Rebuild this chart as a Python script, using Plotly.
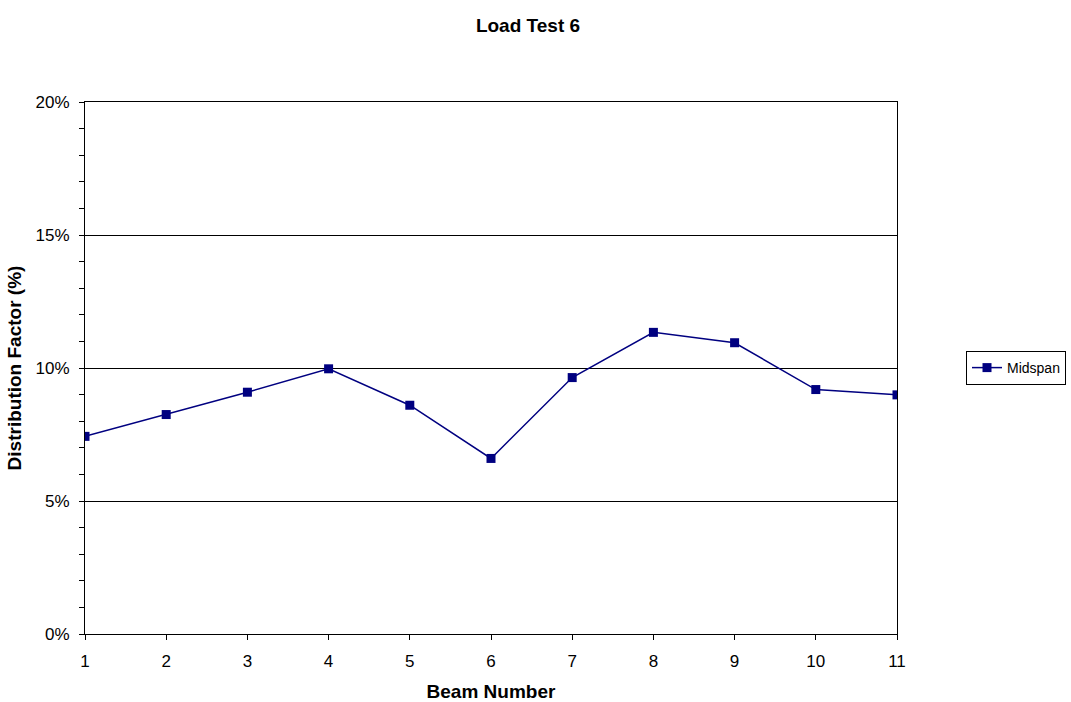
import plotly.graph_objects as go

# Beam numbers and midspan distribution factors (%)
beams = [1, 2, 3, 4, 5, 6, 7, 8, 9, 10, 11]
midspan = [7.43, 8.25, 9.09, 9.97, 8.60, 6.60, 9.64, 11.34, 10.95, 9.19, 8.99]
y_ticks = [0, 5, 10, 15, 20]
y_minor_ticks = [1, 2, 3, 4, 6, 7, 8, 9, 11, 12, 13, 14, 16, 17, 18, 19]

FONT = "Liberation Sans, Arial, sans-serif"
NAVY = "#000080"

fig = go.Figure()
fig.add_trace(go.Scatter(
    x=beams, y=midspan, name="Midspan", mode="lines+markers",
    line=dict(color=NAVY, width=1.5),
    marker=dict(symbol="square", size=9, color=NAVY),
))

fig.update_layout(
    width=1071, height=702,
    margin=dict(l=85, r=174, t=102, b=68),
    paper_bgcolor="white", plot_bgcolor="white",
    font=dict(family=FONT, size=17, color="black"),
    title=dict(text="<b>Load Test 6</b>", x=528 / 1071, xref="container", xanchor="center",
               y=1 - 25 / 702, yref="container", yanchor="middle",
               font=dict(family=FONT, size=19, color="black")),
    showlegend=True,
    legend=dict(xref="container", x=966 / 1071, xanchor="left",
                yref="container", y=1 - 368 / 702, yanchor="middle",
                bordercolor="black", borderwidth=1, bgcolor="white",
                font=dict(family=FONT, size=14, color="black"),
                itemwidth=30, tracegroupgap=0),
)

fig.update_xaxes(
    range=[1, 11], tickmode="array", tickvals=beams, ticktext=[str(b) for b in beams],
    showline=True, linecolor="black", linewidth=1, mirror=True,
    ticks="outside", ticklen=5, tickcolor="black", ticklabelstandoff=7,
    showgrid=False, zeroline=False, automargin=False,
    title=dict(text="<b>Beam Number</b>",
               font=dict(family=FONT, size=19, color="black")),
)

fig.update_yaxes(
    range=[0, 20], tickmode="array", tickvals=y_ticks,
    ticktext=[f"{v}%" for v in y_ticks],
    showline=True, linecolor="black", linewidth=1, mirror=True,
    ticks="outside", ticklen=5, tickcolor="black", ticklabelstandoff=6,
    showgrid=True, gridcolor="black", gridwidth=1, zeroline=False,
    minor=dict(tickmode="array", tickvals=y_minor_ticks, ticks="outside",
               ticklen=5, tickcolor="black", showgrid=False),
    title=dict(text="<b>Distribution Factor (%)</b>", standoff=8,
               font=dict(family=FONT, size=19, color="black")),
)

fig.write_html("out.html")
